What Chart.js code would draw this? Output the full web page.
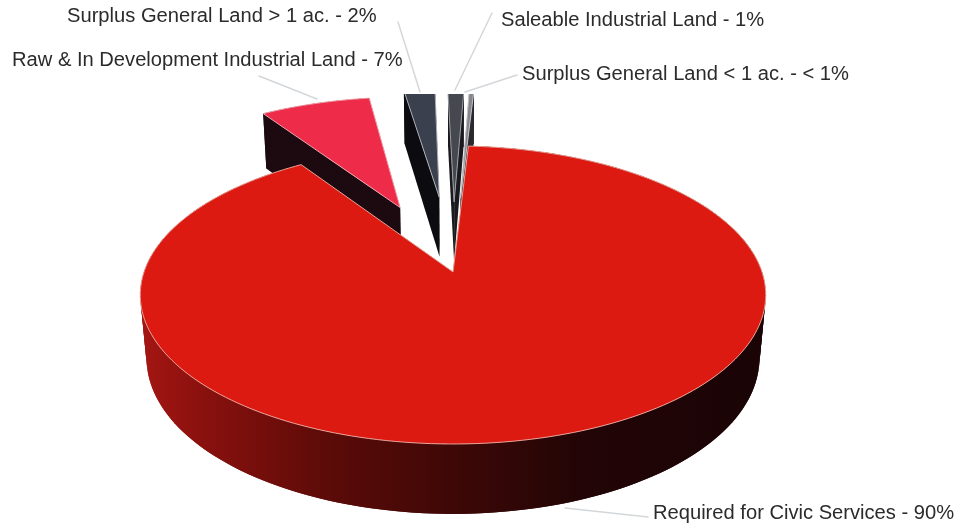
<!DOCTYPE html>
<html>
<head>
<meta charset="utf-8">
<title>Land Inventory</title>
<script src="https://cdn.jsdelivr.net/npm/chart.js@4"></script>
<style>
  html, body { margin: 0; padding: 0; background: #fff; }
  canvas { display: block; }
</style>
</head>
<body>
<canvas id="landChart" width="954" height="526"></canvas>
<script>
const categories = [
    'Required for Civic Services',
    'Raw & In Development Industrial Land',
    'Surplus General Land > 1 ac.',
    'Saleable Industrial Land',
    'Surplus General Land < 1 ac.'
];
const shares = [90, 7, 2, 1, 0.3];
const shareLabels = ['90%', '7%', '2%', '1%', '< 1%'];

// Camera used to tilt the flat pie into a thick disc
const camera = {
    x: 453, y: 272,      // where the pie centre lands on the page
    scale: 309,
    tilt: 145.5,
    height: 64,
    near: 0.154,         // how much the front of the disc grows
    drop: 0.02           // how much the underside shrinks
};

function project(u, v, h) {
    const w = 1 - camera.near * v + camera.drop * h;
    return {
        x: camera.x + camera.scale * u / w,
        y: camera.y + (camera.tilt * v + camera.height * h) / w
    };
}

function sliceOutline(arc) {
    const mid = (arc.startAngle + arc.endAngle) / 2;
    const shift = (arc.options.offset || 0) / arc.outerRadius;
    const ou = Math.cos(mid) * shift;
    const ov = Math.sin(mid) * shift;
    const pts = [[ou, ov]];
    const steps = Math.max(4, Math.ceil((arc.endAngle - arc.startAngle) * 40));
    for (let i = 0; i <= steps; i++) {
        const a = arc.startAngle + (arc.endAngle - arc.startAngle) * i / steps;
        pts.push([ou + Math.cos(a), ov + Math.sin(a)]);
    }
    return pts;
}

function tracePolygon(ctx, points) {
    ctx.beginPath();
    points.forEach((p, i) => i ? ctx.lineTo(p.x, p.y) : ctx.moveTo(p.x, p.y));
    ctx.closePath();
}

function drawSlice(ctx, arc, sideStyle) {
    const pts = sliceOutline(arc);
    const top = pts.map(p => project(p[0], p[1], 0));
    const bottom = pts.map(p => project(p[0], p[1], 1));
    const n = pts.length;

    // side walls first, the top face covers whatever it overlaps.
    // each quad reaches over the next one so no seams show
    ctx.fillStyle = sideStyle;
    tracePolygon(ctx, [top[0], top[1], bottom[1], bottom[0]]);
    ctx.fill();
    tracePolygon(ctx, [top[0], top[n - 1], bottom[n - 1], bottom[0]]);
    ctx.fill();
    for (let i = 1; i < n - 1; i++) {
        const j = Math.min(i + 2, n - 1);
        tracePolygon(ctx, [top[i], top[j], bottom[j], bottom[i]]);
        ctx.fill();
    }

    tracePolygon(ctx, top);
    ctx.fillStyle = arc.options.backgroundColor;
    ctx.fill();
    ctx.strokeStyle = arc.options.borderColor;
    ctx.lineWidth = arc.options.borderWidth;
    ctx.stroke();
}

const discPie = {
    id: 'discPie',
    beforeDatasetsDraw(chart, args, opts) {
        const ctx = chart.ctx;
        const arcs = chart.getDatasetMeta(0).data;

        const sweep = ctx.createLinearGradient(139, 0, 765, 0);
        opts.mainSide.forEach(s => sweep.addColorStop(s[0], s[1]));
        const sides = opts.sides.map(c => c || sweep);

        ctx.save();
        ctx.lineJoin = 'round';
        // exploded slices sit behind the big one and stop at the plot's top edge
        ctx.save();
        ctx.beginPath();
        ctx.rect(0, opts.plotTop, chart.width, chart.height - opts.plotTop);
        ctx.clip();
        for (let i = arcs.length - 1; i > 0; i--) {
            drawSlice(ctx, arcs[i], sides[i]);
        }
        ctx.restore();
        drawSlice(ctx, arcs[0], sides[0]);
        ctx.restore();
        return false;
    },
    afterDraw(chart, args, opts) {
        const ctx = chart.ctx;
        ctx.save();
        ctx.lineCap = 'round';
        ctx.lineWidth = 1.5;
        ctx.strokeStyle = '#d4d7da';
        opts.leaders.forEach(l => {
            ctx.beginPath();
            ctx.moveTo(l[0], l[1]);
            ctx.lineTo(l[2], l[3]);
            ctx.stroke();
        });
        ctx.fillStyle = '#2b2b2b';
        ctx.font = '20.15px "Liberation Sans", Arial, sans-serif';
        ctx.textBaseline = 'middle';
        categories.forEach((name, i) => {
            const at = opts.labelAt[i];
            ctx.fillText(name + ' - ' + shareLabels[i], at[0], at[1]);
        });
        ctx.restore();
    }
};

new Chart(document.getElementById('landChart'), {
    type: 'pie',
    data: {
        labels: categories,
        datasets: [{
            data: shares,
            backgroundColor: ['#dc1a11', '#ee2b48', '#3b404e', '#45484f', '#85868c'],
            borderColor: ['#e9a097', '#f2a4ae', '#aeb0b6', '#9d9fa4', '#c4c4c8'],
            borderWidth: 1,
            offset: [0, 102, 112, 104, 110],
            radius: 200,
            rotation: 3.3
        }]
    },
    options: {
        responsive: false,
        animation: false,
        events: [],
        plugins: {
            legend: { display: false },
            tooltip: { enabled: false },
            discPie: {
                plotTop: 94,
                mainSide: [[0, '#a51613'], [0.1, '#8a110e'], [0.3, '#5c0b08'], [0.5, '#3e0806'], [0.7, '#230506'], [1, '#1a0406']],
                sides: [null, '#1c0a10', '#0c0c10', '#1a1a1e', '#2a2a2e'],
                labelAt: [[653, 513], [12, 60], [67, 16], [501, 20], [522, 74]],
                leaders: [[648, 517, 565, 508], [259, 76, 317, 99], [398, 22, 420, 92], [492, 13, 455, 90], [517, 75, 465, 92]]
            }
        }
    },
    plugins: [discPie]
});
</script>
</body>
</html>
